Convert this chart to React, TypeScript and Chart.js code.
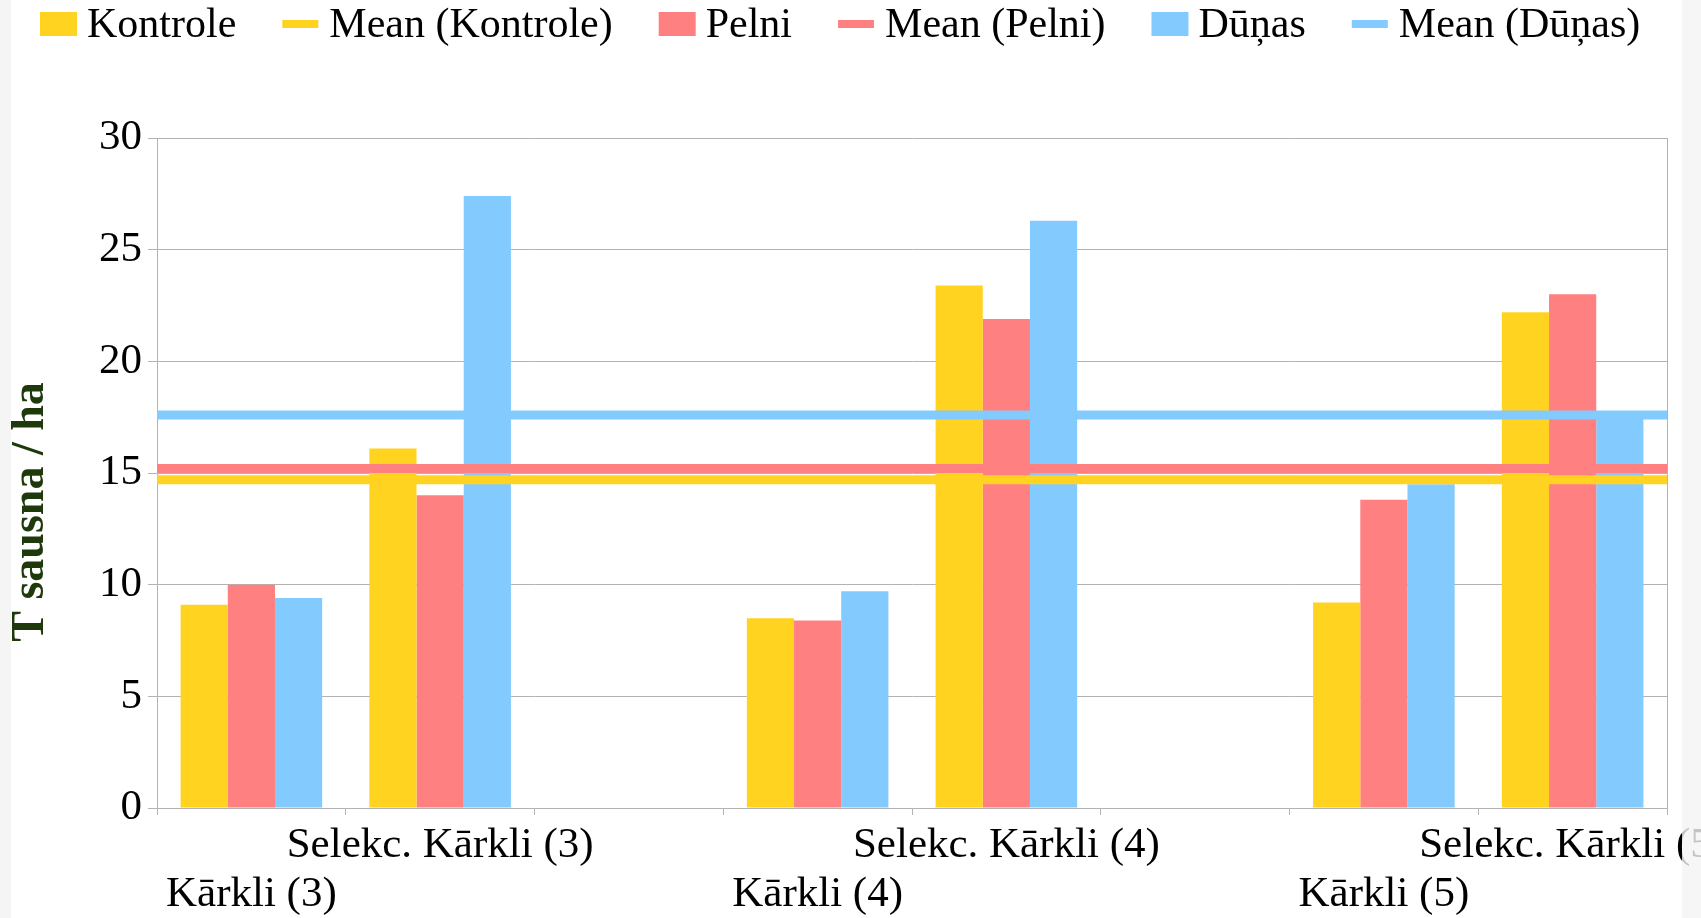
import React, { useEffect, useRef } from "react";
import { Chart, registerables } from "chart.js";

Chart.register(...registerables);

// ---- data ----
const tickLabels: (string | string[])[] = [
  ["", "Kārkli (3)"],
  "Selekc. Kārkli (3)",
  "",
  ["", "Kārkli (4)"],
  "Selekc. Kārkli (4)",
  "",
  ["", "Kārkli (5)"],
  "Selekc. Kārkli (5)",
];
const kontrole = [9.1, 16.1, null, 8.5, 23.4, null, 9.2, 22.2];
const pelni = [10.0, 14.0, null, 8.4, 21.9, null, 13.8, 23.0];
const dunas = [9.4, 27.4, null, 9.7, 26.3, null, 14.5, 17.6];
const meanKontrole = 14.7;
const meanPelni = 15.2;
const meanDunas = 17.6;
const yTicks = { min: 0, max: 30, step: 5 };
const yAxisTitle = "T sausna / ha";

const C_Y = "#ffd320";
const C_P = "#ff8080";
const C_B = "#83caff";
const GRID = "#b3b3b3";
const FONT = '"Liberation Serif", "DejaVu Serif", serif';

// category slots run from -0.5 to n-0.5 on the numeric index axis
const X_MIN = -0.5;
const X_MAX = tickLabels.length - 0.5;

const bgPlugin = {
  id: "bg",
  beforeDraw(chart: any) {
    const { ctx, width, height } = chart;
    ctx.save();
    ctx.fillStyle = "#ffffff";
    ctx.fillRect(0, 0, width, height);
    ctx.fillStyle = "#f5f5f5";
    ctx.fillRect(0, 0, 11, height);
    ctx.restore();
  },
};

const decorPlugin = {
  id: "decor",
  afterDraw(chart: any) {
    const { ctx, height, width } = chart;
    ctx.save();
    // legend
    ctx.font = `42px ${FONT}`;
    ctx.textBaseline = "alphabetic";
    ctx.textAlign = "left";
    let x = 40;
    chart.data.datasets.forEach((ds: any) => {
      const isLine = ds.type === "line";
      if (isLine) {
        ctx.fillStyle = ds.borderColor;
        ctx.fillRect(x, 20, 36, 8);
      } else {
        ctx.fillStyle = ds.backgroundColor;
        ctx.fillRect(x, 12, 37, 24);
      }
      x += 37 + 10;
      ctx.fillStyle = "#000000";
      ctx.fillText(ds.label, x, 37);
      x += ctx.measureText(ds.label).width + 46;
    });
    // y title
    ctx.translate(31, 512);
    ctx.rotate(-Math.PI / 2);
    ctx.font = `bold 46px ${FONT}`;
    ctx.fillStyle = "#1e3a0c";
    ctx.textAlign = "center";
    ctx.textBaseline = "middle";
    ctx.fillText(yAxisTitle, 0, 0);
    ctx.restore();
    // right faded strip
    ctx.save();
    ctx.fillStyle = "rgba(244,244,244,0.8)";
    ctx.fillRect(1682, 0, width - 1682, height);
    ctx.restore();
  },
};

export default function App() {
  const ref = useRef<HTMLCanvasElement>(null);
  useEffect(() => {
    document.body.style.margin = "0";
    const canvas = ref.current!;
    const meanLine = (label: string, v: number, color: string) => ({
      type: "line" as const,
      label,
      data: [
        { x: X_MIN, y: v },
        { x: X_MAX, y: v },
      ],
      xAxisID: "x",
      yAxisID: "y",
      borderColor: color,
      backgroundColor: color,
      borderWidth: 9,
      pointRadius: 0,
      fill: false,
      order: 0,
    });
    const bar = (label: string, values: (number | null)[], color: string) => ({
      type: "bar" as const,
      label,
      data: values.map((v, i) => ({ x: i, y: v })),
      backgroundColor: color,
      borderWidth: 0,
      categoryPercentage: 0.75,
      barPercentage: 1.0,
      order: 1,
      xAxisID: "x",
      yAxisID: "y",
    });
    const chart = new Chart(canvas, {
      type: "bar",
      data: {
        labels: tickLabels as any,
        datasets: [
          bar("Kontrole", kontrole, C_Y),
          meanLine("Mean (Kontrole)", meanKontrole, C_Y),
          bar("Pelni", pelni, C_P),
          meanLine("Mean (Pelni)", meanPelni, C_P),
          bar("Dūņas", dunas, C_B),
          meanLine("Mean (Dūņas)", meanDunas, C_B),
        ] as any,
      },
      options: {
        responsive: false,
        animation: false,
        devicePixelRatio: 1,
        layout: { padding: { top: 138, right: 34, left: 0, bottom: 0 } },
        plugins: {
          legend: { display: false },
          tooltip: { enabled: false },
          title: { display: false },
        },
        scales: {
          // numeric index axis carrying bars and mean lines
          x: {
            type: "linear",
            min: X_MIN,
            max: X_MAX,
            offset: false,
            display: false,
            grid: { offset: false },
            afterBuildTicks: (s: any) => {
              s.ticks = tickLabels.map((_, i) => ({ value: i }));
            },
          },
          // visible category axis for labels and tick marks
          xLabels: {
            type: "category",
            position: "bottom",
            offset: true,
            grid: {
              offset: true,
              drawOnChartArea: false,
              drawTicks: true,
              tickLength: 7,
              color: GRID,
              lineWidth: 1,
            },
            border: { color: GRID, width: 1 },
            ticks: {
              autoSkip: false,
              maxRotation: 0,
              minRotation: 0,
              padding: 6,
              color: "#000000",
              font: { family: FONT, size: 43, lineHeight: 49 / 43 },
            },
            afterFit: (s: any) => {
              s.paddingLeft = 0;
              s.paddingRight = 0;
              s.height = 110;
            },
          },
          y: {
            stacked: false,
            min: yTicks.min,
            max: yTicks.max,
            offset: false,
            ticks: {
              stepSize: yTicks.step,
              padding: 6,
              color: "#000000",
              font: { family: FONT, size: 43 },
            },
            grid: { color: GRID, tickLength: 9, lineWidth: 1 },
            border: { color: GRID, width: 1 },
            afterFit: (s: any) => {
              s.width = 157;
            },
          },
          yR: {
            position: "right",
            min: yTicks.min,
            max: yTicks.max,
            ticks: { display: false },
            grid: { display: false },
            border: { display: true, color: GRID, width: 1 },
            afterFit: (s: any) => {
              s.width = 0;
            },
          },
        },
      } as any,
      plugins: [bgPlugin, decorPlugin],
    });
    return () => chart.destroy();
  }, []);
  return (
    <canvas
      ref={ref}
      width={1701}
      height={918}
      style={{ display: "block", width: 1701, height: 918 }}
    />
  );
}
